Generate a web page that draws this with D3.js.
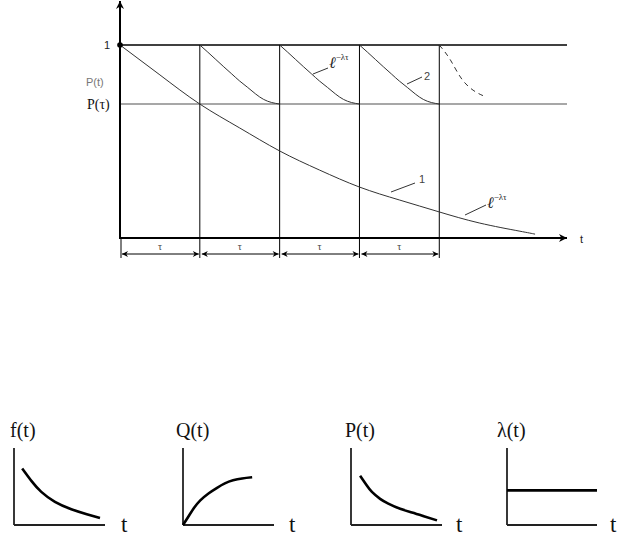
<!DOCTYPE html>
<html><head><meta charset="utf-8">
<script src="https://cdn.jsdelivr.net/npm/d3@7"></script>
<style>body{margin:0;background:#fff}svg{display:block}</style>
</head><body>
<script>
// ---------- main chart data ----------
const periods = [0, 1, 2, 3, 4];            // interval boundaries (units of tau)
const tauLabels = ["τ", "τ", "τ", "τ"];
const levelOne = 1;
const levelPtau = 0.694;
// curve 1: P(t) = e^{-λt}
const curve1T = [0, 0.5, 1, 1.5, 2, 2.5, 3, 3.5, 4, 4.5, 5, 5.2];
const curve1P = [1, 0.845, 0.694, 0.570, 0.451, 0.352, 0.264, 0.197, 0.135, 0.078, 0.036, 0.02];
// curve 2: reliability restored after each interval (decay within one interval)
const curve2T = [0, 0.1, 0.2, 0.3, 0.4, 0.5, 0.6, 0.7, 0.8, 0.9, 1];
const curve2P = [1, 0.963, 0.925, 0.887, 0.850, 0.813, 0.780, 0.746, 0.718, 0.702, 0.694];
// dashed continuation after the 4th interval
const dashT = [4, 4.14, 4.29, 4.46, 4.59];
const dashP = [1, 0.922, 0.819, 0.756, 0.731];

// ---------- small panels data ----------
const panelTitles = ["f(t)", "Q(t)", "P(t)", "λ(t)"];
const fX = [0.09, 0.20, 0.30, 0.45, 0.63, 0.80, 0.945];
const fY = [0.735, 0.56, 0.43, 0.30, 0.205, 0.14, 0.09];
const qX = [0, 0.06, 0.12, 0.19, 0.28, 0.37, 0.46, 0.55, 0.65, 0.76];
const qY = [0, 0.11, 0.22, 0.32, 0.41, 0.48, 0.54, 0.58, 0.605, 0.62];
const pX = [0.10, 0.17, 0.23, 0.32, 0.41, 0.54, 0.67, 0.80, 0.945];
const pY = [0.64, 0.52, 0.43, 0.34, 0.278, 0.21, 0.163, 0.115, 0.06];
const lX = [0, 1];
const lY = [0.45, 0.45];

const W = 623, H = 542;
const svg = d3.select("body").append("svg").attr("width", W).attr("height", H);

const defs = svg.append("defs");
defs.append("marker").attr("id","ah").attr("viewBox","0 0 10 10").attr("refX",10).attr("refY",5)
  .attr("markerWidth",9).attr("markerHeight",8).attr("markerUnits","userSpaceOnUse").attr("orient","auto")
  .append("path").attr("d","M0,0 L10,5 L0,10 L3,5 Z").attr("fill","#000");
defs.append("marker").attr("id","dh").attr("viewBox","0 0 10 10").attr("refX",10).attr("refY",5)
  .attr("markerWidth",7).attr("markerHeight",6).attr("markerUnits","userSpaceOnUse").attr("orient","auto-start-reverse")
  .append("path").attr("d","M0,0 L10,5 L0,10 L3,5 Z").attr("fill","#000");

const sans = "'Liberation Sans', Arial, sans-serif";
const serif = "'Liberation Serif', 'Times New Roman', serif";

// scales for the main chart
const x = d3.scaleLinear().domain([0, 5.6]).range([120, 567]);
const y = d3.scaleLinear().domain([0, 1]).range([238, 45]);
const g = svg.append("g");

// horizontal reference lines
g.append("line").attr("x1", x(0)).attr("x2", x(5.6)).attr("y1", y(levelOne)).attr("y2", y(levelOne))
  .attr("stroke","#000").attr("stroke-width",1.4);
g.append("line").attr("x1", x(0)).attr("x2", x(5.6)).attr("y1", y(levelPtau)).attr("y2", y(levelPtau))
  .attr("stroke","#8a8a8a").attr("stroke-width",1.6);

// vertical lines at interval boundaries
g.selectAll(".vl").data(periods.slice(1)).join("line")
  .attr("x1", d => x(d)).attr("x2", d => x(d)).attr("y1", y(levelOne)).attr("y2", 258)
  .attr("stroke","#000").attr("stroke-width",1);
g.append("line").attr("x1", x(0)+1).attr("x2", x(0)+1).attr("y1", y(0)).attr("y2", 258)
  .attr("stroke","#000").attr("stroke-width",1);

// dimension arrows
g.selectAll(".dim").data(periods.slice(0,4)).join("line")
  .attr("x1", d => x(d)+2).attr("x2", d => x(d+1)-1).attr("y1", 254).attr("y2", 254)
  .attr("stroke","#000").attr("stroke-width",1)
  .attr("marker-start","url(#dh)").attr("marker-end","url(#dh)");
g.selectAll(".tl").data(periods.slice(0,4)).join("text")
  .attr("x", d => x(d+0.5)).attr("y", 250).attr("text-anchor","middle")
  .attr("font-family",serif).attr("font-size",10).attr("fill","#444")
  .text((d,i) => tauLabels[i]);

// axes
g.append("line").attr("x1", x(0)).attr("x2", x(0)).attr("y1", y(0)+1).attr("y2", 1)
  .attr("stroke","#000").attr("stroke-width",2).attr("marker-end","url(#ah)");
g.append("line").attr("x1", x(0)-1).attr("x2", x(5.6)).attr("y1", y(0)).attr("y2", y(0))
  .attr("stroke","#000").attr("stroke-width",2).attr("marker-end","url(#ah)");

// curves
const line = d3.line().x(d => x(d[0])).y(d => y(d[1])).curve(d3.curveNatural);
g.append("path").attr("d", line(curve1T.map((t,i) => [t, curve1P[i]])))
  .attr("fill","none").attr("stroke","#333").attr("stroke-width",1);
periods.slice(1,4).forEach(p0 => {
  g.append("path").attr("d", line(curve2T.map((t,i) => [p0 + t, curve2P[i]])))
    .attr("fill","none").attr("stroke","#333").attr("stroke-width",1);
});
g.append("path").attr("d", line(dashT.map((t,i) => [t, dashP[i]])))
  .attr("fill","none").attr("stroke","#333").attr("stroke-width",1).attr("stroke-dasharray","5,4");

// dot at (0,1)
g.append("circle").attr("cx", x(0)).attr("cy", y(1)).attr("r", 2.8).attr("fill","#000");

// labels on main chart
g.append("text").attr("x", 110).attr("y", 49).attr("text-anchor","end").attr("font-family",sans).attr("font-size",11).attr("fill","#222").text("1");
g.append("text").attr("x", 86).attr("y", 86).attr("font-family",sans).attr("font-size",11).attr("fill","#777").text("P(t)");
g.append("text").attr("x", 87).attr("y", 109).attr("font-family",serif).attr("font-size",14).attr("fill","#111").text("P(τ)");
g.append("text").attr("x", 580).attr("y", 243).attr("font-family",sans).attr("font-size",11).attr("fill","#222").text("t");

function expLabel(xl, yl, lx1, ly1, lx2, ly2) {
  g.append("line").attr("x1",lx1).attr("y1",ly1).attr("x2",lx2).attr("y2",ly2).attr("stroke","#333").attr("stroke-width",1);
  const t = g.append("text").attr("x", xl).attr("y", yl).attr("font-family",serif).attr("font-size",16).attr("font-style","italic").attr("fill","#222");
  t.append("tspan").text("ℓ");
  t.append("tspan").attr("dy",-8).attr("font-size",9).attr("font-style","normal").text("−λτ");
}
expLabel(329, 68, 313, 74, 328, 68);
expLabel(487, 208, 465, 215, 486, 205);

g.append("line").attr("x1",407).attr("y1",84).attr("x2",422).attr("y2",77).attr("stroke","#333");
g.append("text").attr("x", 424).attr("y", 80).attr("font-family",sans).attr("font-size",11).attr("fill","#444").text("2");
g.append("line").attr("x1",391).attr("y1",192).attr("x2",415).attr("y2",183).attr("stroke","#333");
g.append("text").attr("x", 419).attr("y", 183).attr("font-family",sans).attr("font-size",11).attr("fill","#444").text("1");

// ---------- small panels ----------
const panels = [
  {ox: 14, end: 105, xs: fX, ys: fY, tx: 10, lx: 121},
  {ox: 183, end: 274, xs: qX, ys: qY, tx: 176, lx: 289},
  {ox: 351, end: 442, xs: pX, ys: pY, tx: 345, lx: 456},
  {ox: 507, end: 597, xs: lX, ys: lY, tx: 497, lx: 610}
];
panels.forEach((p, i) => {
  const px = d3.scaleLinear().domain([0,1]).range([p.ox, p.end]);
  const py = d3.scaleLinear().domain([0,1]).range([525, 448]);
  const pg = svg.append("g");
  pg.append("line").attr("x1", px(0)).attr("x2", px(0)).attr("y1", py(0)).attr("y2", py(1))
    .attr("stroke","#222").attr("stroke-width",1.8);
  pg.append("line").attr("x1", px(0)).attr("x2", px(1)).attr("y1", py(0)).attr("y2", py(0))
    .attr("stroke","#222").attr("stroke-width",1.8);
  const ln = d3.line().x(d => px(d[0])).y(d => py(d[1])).curve(d3.curveNatural);
  pg.append("path").attr("d", ln(p.xs.map((v,k) => [v, p.ys[k]])))
    .attr("fill","none").attr("stroke","#000").attr("stroke-width",2.6);
  pg.append("text").attr("x", p.tx).attr("y", 437).attr("font-family",serif).attr("font-size",20)
    .attr("fill","#111").text(panelTitles[i]);
  pg.append("text").attr("x", p.lx).attr("y", 532).attr("font-family",serif).attr("font-size",23)
    .attr("fill","#111").text("t");
});
</script>
</body></html>
